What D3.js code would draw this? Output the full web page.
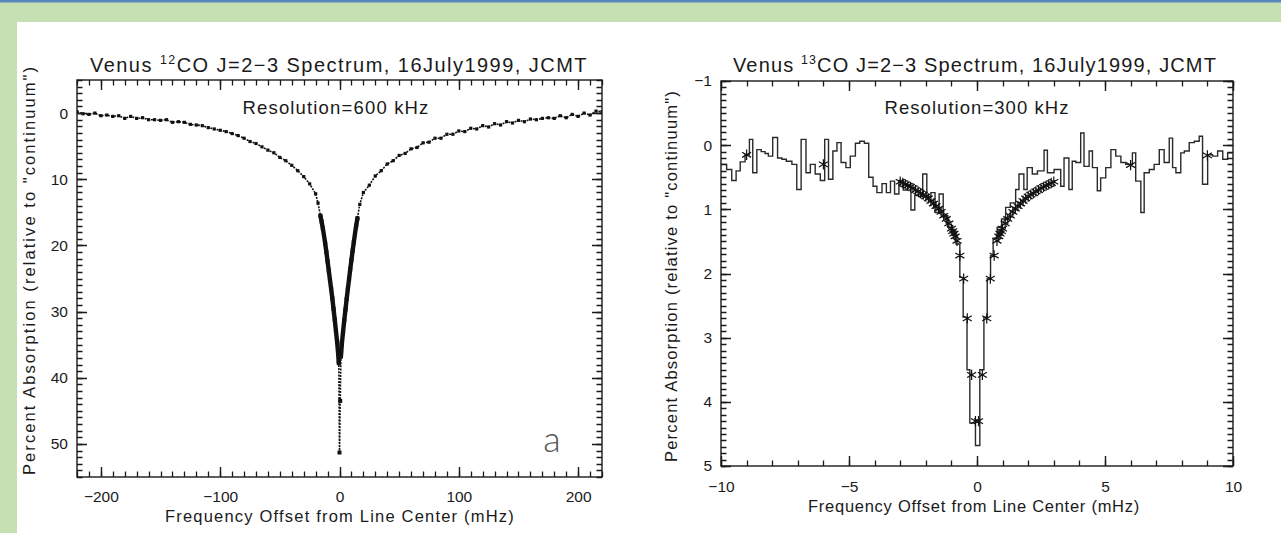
<!DOCTYPE html>
<html><head><meta charset="utf-8">
<script src="https://cdn.jsdelivr.net/npm/d3@7"></script>
<style>html,body{margin:0;padding:0;background:#fff;overflow:hidden}svg{display:block}</style>
</head><body>
<svg id="c" width="1281" height="533"></svg>
<script>
// ---------------- DATA ----------------
const co12LeftWingX = [-220,-215,-210,-205,-200,-195,-190,-185,-180,-175,-170,-165,-160,-155,-150,-145,-140,-135,-130,-125,-120,-115,-110,-105,-100,-95,-90,-85,-80,-75,-70,-65,-60,-55,-50,-45,-40,-35,-30,-25,-20,-18];
const co12LeftWingV = [-0.2,0.1,0.2,0.0,0.4,0.3,0.5,0.4,0.8,0.5,0.8,0.7,1.0,1.0,1.1,1.0,1.4,1.3,1.4,1.7,1.8,1.9,2.2,2.4,2.6,2.8,3.1,3.4,3.8,4.3,4.6,5.1,5.6,6.0,6.7,7.2,7.9,8.7,9.6,10.7,12.2,13.6];
const co12CoreX = [-16,-15,-14,-13,-12,-11,-10,-9,-8,-7,-6,-5,-4,-3,-2,-1.2,-0.6,0,0.6,1.2,2,3,4,5,6,7,8,9,10,11,12,13,14,15];
const co12CoreV = [15.5,16.4,17.4,18.5,19.7,21.0,22.4,23.8,25.2,26.6,28.0,29.6,31.2,32.9,34.6,36.2,37.8,51.3,43.5,36.8,34.8,33.0,31.3,29.7,28.1,26.6,25.1,23.6,22.2,20.8,19.5,18.2,17.0,15.9];
const co12RightWingX = [17,20,25,30,35,40,45,50,55,60,65,70,75,80,85,90,95,100,105,110,115,120,125,130,135,140,145,150,155,160,165,170,175,180,185,190,195,200,205,210,215,220];
const co12RightWingV = [13.8,12.0,10.9,9.5,8.7,7.7,7.2,6.4,6.1,5.4,5.2,4.5,4.4,3.8,3.8,3.2,3.2,2.7,2.8,2.3,2.4,1.9,2.1,1.6,1.8,1.3,1.5,1.1,1.3,0.9,1.0,0.8,0.7,0.8,0.4,0.7,0.2,0.5,0.0,0.3,-0.3,-0.2];

const co13ChanX = [-10.00,-9.78,-9.58,-9.41,-9.25,-9.06,-8.89,-8.76,-8.60,-8.43,-8.28,-8.15,-7.98,-7.79,-7.62,-7.45,-7.23,-7.04,-6.87,-6.68,-6.51,-6.32,-6.12,-5.95,-5.80,-5.63,-5.47,-5.31,-5.12,-4.95,-4.75,-4.58,-4.40,-4.23,-4.06,-3.91,-3.71,-3.54,-3.38,-3.22,-3.05,-2.88,-2.71,-2.58,-2.43,-2.28,-2.12,-1.96,-1.80,-1.64,-1.48,-1.32,-1.14,-0.97,-0.82,-0.67,-0.54,-0.39,-0.28,-0.06,0.11,0.27,0.40,0.53,0.63,0.79,0.96,1.12,1.30,1.51,1.64,1.83,1.96,2.16,2.36,2.62,2.75,3.01,3.27,3.40,3.59,3.72,3.86,4.05,4.18,4.38,4.51,4.70,4.83,5.03,5.23,5.42,5.62,5.81,6.07,6.20,6.40,6.53,6.73,6.92,7.12,7.31,7.51,7.64,7.77,7.96,8.10,8.29,8.49,8.68,8.81,9.01,9.20,9.40,9.60,9.79,10.00];
const co13ChanV = [0.30,0.38,0.55,0.40,0.26,0.15,-0.09,0.43,0.07,0.10,0.13,0.17,-0.12,0.20,0.22,0.25,0.30,0.69,-0.09,0.43,0.30,0.45,0.55,-0.09,0.53,0.09,-0.04,0.27,0.35,0.17,-0.03,-0.06,-0.03,0.50,0.64,0.74,0.60,0.74,0.56,0.76,0.55,0.70,0.62,1.01,0.78,0.80,0.45,0.80,0.74,1.05,0.76,1.10,1.28,1.34,1.54,2.06,2.68,3.50,4.33,4.68,3.50,2.68,2.08,1.72,1.45,1.28,1.15,0.97,0.90,0.69,0.45,0.69,0.35,0.45,0.40,0.08,0.43,0.38,0.64,0.20,0.69,0.25,0.27,-0.19,0.33,0.09,0.35,0.71,0.51,0.35,0.07,0.17,0.27,0.30,0.12,0.56,1.05,0.43,0.38,0.30,0.07,0.27,-0.11,0.35,0.43,0.12,0.09,-0.04,-0.06,-0.14,0.61,0.15,0.17,0.09,0.22,0.12,0.12];

const modelLeftX = [-3.0,-2.9,-2.8,-2.7,-2.6,-2.5,-2.4,-2.3,-2.2,-2.1,-2.0,-1.9,-1.8,-1.7,-1.6,-1.5,-1.4,-1.3,-1.2,-1.1,-1.0,-0.95,-0.9,-0.85,-0.78,-0.67,-0.52,-0.38,-0.21,-0.06];
const modelLeftV = [0.57,0.59,0.61,0.63,0.65,0.67,0.70,0.72,0.75,0.77,0.80,0.83,0.87,0.91,0.95,0.99,1.04,1.10,1.15,1.22,1.30,1.34,1.38,1.42,1.49,1.72,2.08,2.70,3.58,4.30];
const modelRightX = [0.06,0.21,0.38,0.52,0.67,0.78,0.85,0.9,0.95,1.0,1.1,1.2,1.3,1.4,1.5,1.6,1.7,1.8,1.9,2.0,2.1,2.2,2.3,2.4,2.5,2.6,2.7,2.8,2.9,3.0];
const modelRightV = [4.30,3.58,2.70,2.08,1.72,1.49,1.42,1.38,1.34,1.30,1.22,1.15,1.10,1.04,0.99,0.95,0.91,0.87,0.83,0.80,0.77,0.75,0.72,0.70,0.67,0.65,0.63,0.61,0.59,0.57];
const modelFarX = [-9.0,-6.0,6.0,9.0];
const modelFarV = [0.15,0.30,0.31,0.16];

const leftXTicks = [-200,-100,0,100,200];
const leftYTicks = [0,10,20,30,40,50];
const rightXTicks = [-10,-5,0,5,10];
const rightYTicks = [-1,0,1,2,3,4,5];

const titleLeft = ["Venus ", "12", "CO J=2\u22123 Spectrum, 16July1999, JCMT"];
const titleRight = ["Venus ", "13", "CO J=2\u22123 Spectrum, 16July1999, JCMT"];
const resLeft = "Resolution=600 kHz";
const resRight = "Resolution=300 kHz";
const xTitle = "Frequency Offset from Line Center (mHz)";
const yTitle = "Percent Absorption (relative to \"continuum\")";
const panelLetter = "a";

// ---------------- DRAW ----------------
const FONT = "'Liberation Sans', Arial, sans-serif";
const INK = "#1a1a1a";
const svg = d3.select("#c");

svg.append("rect").attr("width",1281).attr("height",533).attr("fill","#c6e0b4");
svg.append("rect").attr("width",1281).attr("height",2.5).attr("fill","#5a86bd");
svg.append("rect").attr("x",17).attr("y",22).attr("width",1264).attr("height",511).attr("fill","#ffffff");

function fitText(sel, target){
  const w = sel.node().getComputedTextLength();
  const n = sel.text().length;
  if (target && n > 0) sel.attr("letter-spacing", ((target - w)/n).toFixed(3));
}
function addText(parts, x, y, size, target, opts){
  opts = opts || {};
  const t = svg.append("text").attr("x",x).attr("y",y).attr("text-anchor","middle")
    .attr("font-family",FONT).attr("font-size",size).attr("fill",INK);
  if (opts.rotate) t.attr("transform",`rotate(-90,${x},${y})`);
  if (typeof parts === "string") t.text(parts);
  else {
    t.append("tspan").text(parts[0]);
    t.append("tspan").attr("font-size",size*0.62).attr("dy",-size*0.38).text(parts[1]);
    t.append("tspan").attr("dy",size*0.38).text(parts[2]);
  }
  fitText(t, target);
  return t;
}

function axes(g, sx, sy, xMaj, yMaj, xMinor, yMinor, o){
  const y0 = sy.range()[0], y1 = sy.range()[1], x0 = sx.range()[0], x1 = sx.range()[1];
  const fmt = d3.format("d");
  const lab = (axis, tr, vals, pad) => {
    axis.tickValues(vals).tickSize(0).tickSizeOuter(0).tickPadding(pad).tickFormat(fmt);
    const a = g.append("g").attr("transform", tr).call(axis);
    a.select(".domain").remove();
    a.selectAll(".tick line").remove();
    a.selectAll("text").attr("font-family",FONT).attr("font-size",o.tickFont).attr("fill",INK);
  };
  lab(d3.axisBottom(sx), `translate(0,${y1})`, xMaj, o.xPad);
  lab(d3.axisLeft(sy), `translate(${x0},0)`, yMaj, o.yPad);
  const tk = (vals, f, w) => g.append("path").attr("d", vals.map(f).join(""))
      .attr("fill","none").attr("stroke",INK).attr("stroke-width",w);
  const rx = v => Math.round(sx(v)) + 0.5, ry = v => Math.round(sy(v)) + 0.5;
  tk(xMinor, v => `M${rx(v)},${y1}V${y1 - o.minLen}M${rx(v)},${y0}V${y0 + o.minLen}`, 1.3);
  tk(xMaj,   v => `M${rx(v)},${y1}V${y1 - o.majLen}M${rx(v)},${y0}V${y0 + o.majLen}`, 1.4);
  tk(yMinor, v => `M${x0},${ry(v)}H${x0 + o.minLen}M${x1},${ry(v)}H${x1 - o.minLen}`, 1.3);
  tk(yMaj,   v => `M${x0},${ry(v)}H${x0 + o.majLen}M${x1},${ry(v)}H${x1 - o.majLen}`, 1.4);
  g.append("rect").attr("x",x0).attr("y",y0).attr("width",x1-x0).attr("height",y1-y0)
    .attr("fill","none").attr("stroke",INK).attr("stroke-width",1.4);
}

// ---- Left panel ----
const xL = d3.scaleLinear().domain([-220,220]).range([77,602]);
const yL = d3.scaleLinear().domain([-5,55]).range([80,477]);
const gL = svg.append("g");
svg.append("defs").append("clipPath").attr("id","clipL").append("rect").attr("x",77).attr("y",80).attr("width",525).attr("height",397);
const dL = gL.append("g").attr("clip-path","url(#clipL)");
const wingL = co12LeftWingX.map((x,i)=>[x, co12LeftWingV[i]]);
const core = co12CoreX.map((x,i)=>[x, co12CoreV[i]]);
const wingR = co12RightWingX.map((x,i)=>[x, co12RightWingV[i]]);
const allL = wingL.concat(core, wingR);
const lineL = d3.line().x(d=>xL(d[0])).y(d=>yL(d[1]));
dL.append("path").datum(allL).attr("d", lineL)
  .attr("fill","none").attr("stroke","#111").attr("stroke-width",1.6).attr("stroke-dasharray","2,1.2");
dL.append("path").datum(core.slice(0,17)).attr("d", lineL).attr("fill","none").attr("stroke","#111").attr("stroke-width",4.4).attr("stroke-linecap","round");
dL.append("path").datum(core.slice(19)).attr("d", lineL).attr("fill","none").attr("stroke","#111").attr("stroke-width",4.4).attr("stroke-linecap","round");
dL.selectAll("rect.w").data(wingL.concat(wingR)).join("rect").attr("class","w")
  .attr("x",d=>xL(d[0])-1.6).attr("y",d=>yL(d[1])-1.6).attr("width",3.2).attr("height",3.2).attr("fill","#111");
dL.selectAll("rect.c").data(core).join("rect").attr("class","c")
  .attr("x",d=>xL(d[0])-2).attr("y",d=>yL(d[1])-2).attr("width",4).attr("height",4).attr("fill","#111");
axes(gL, xL, yL, leftXTicks, leftYTicks, xL.ticks(44), yL.ticks(60),
  {majLen:10, minLen:5.5, tickFont:15.5, xPad:14, yPad:9});

// ---- Right panel ----
const xR = d3.scaleLinear().domain([-10,10]).range([721,1233]);
const yR = d3.scaleLinear().domain([-1,5]).range([81,466]);
const gR = svg.append("g");
const chans = co13ChanX.map((x,i)=>[x, co13ChanV[i]]);
gR.append("path").datum(chans).attr("d", d3.line().curve(d3.curveStepAfter).x(d=>xR(d[0])).y(d=>yR(d[1])))
  .attr("fill","none").attr("stroke","#2a2a2a").attr("stroke-width",1.4);
const model = modelLeftX.map((x,i)=>[x, modelLeftV[i]])
  .concat(modelRightX.map((x,i)=>[x, modelRightV[i]]), modelFarX.map((x,i)=>[x, modelFarV[i]]));
const star = d3.symbol().type(d3.symbolAsterisk).size(75);
gR.selectAll("path.s").data(model).join("path").attr("class","s")
  .attr("d", star).attr("transform", d=>`translate(${xR(d[0])},${yR(d[1])})`)
  .attr("fill","none").attr("stroke","#111").attr("stroke-width",1.2);
axes(gR, xR, yR, rightXTicks, rightYTicks, xR.ticks(20), yR.ticks(60),
  {majLen:10, minLen:5.5, tickFont:15.5, xPad:15, yPad:9});

// ---- Texts ----
addText(titleLeft, 339, 72, 20, 498);
addText(titleRight, 975, 72, 20, 484);
addText(resLeft, 336, 114, 18.5, 187);
addText(resRight, 977, 114, 18.5, 185);
addText(xTitle, 340, 522, 16.5, 350);
addText(xTitle, 974, 512, 16.5, 332);
addText(yTitle, 35, 270, 16.5, 410, {rotate:true});
addText(yTitle, 677, 276, 16.5, 372, {rotate:true});
svg.append("text").attr("x",552).attr("y",452).attr("text-anchor","middle")
  .attr("font-family","Lato, 'Liberation Sans', sans-serif").attr("font-weight",300)
  .attr("font-size",36).attr("fill","#555").text(panelLetter);
</script>
</body></html>
